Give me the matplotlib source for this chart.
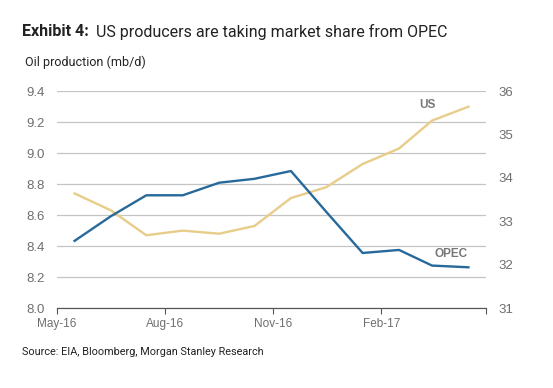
import matplotlib.pyplot as plt
import pandas as pd

# data, monthly mid-month points
months = pd.date_range("2016-05-01", periods=12, freq="MS") + pd.Timedelta(days=15)
us = [8.74, 8.63, 8.47, 8.50, 8.48, 8.53, 8.71, 8.78, 8.93, 9.03, 9.21, 9.30]
opec = [32.55, 33.12, 33.60, 33.60, 33.89, 33.98, 34.16, 33.22, 32.27, 32.34, 31.98, 31.94]

tick_dates = pd.to_datetime(["2016-05-01", "2016-08-01", "2016-11-01", "2017-02-01", "2017-05-01"])
tick_labels = ["May-16", "Aug-16", "Nov-16", "Feb-17", ""]
left_ticks = [8.0, 8.2, 8.4, 8.6, 8.8, 9.0, 9.2, 9.4]
right_ticks = [31, 32, 33, 34, 35, 36]

blue = "#27699a"
tan = "#e8cd8a"
grey_txt = "#6e6e6e"

fig = plt.figure(figsize=(5.53, 3.88), dpi=100)
ax = fig.add_axes([0.103, 0.206, 0.776, 0.559])
ax2 = ax.twinx()

# US on left axis
ax.plot(months, us, color=tan, lw=1.7, zorder=3)
ax.set_ylim(8.0, 9.4)
ax.set_yticks(left_ticks)
ax.set_yticklabels([f"{v:.1f}" for v in left_ticks], fontfamily="Liberation Sans",
                   fontsize=9.5, color=grey_txt)
ax.yaxis.grid(True, color="#c4c4c4", lw=0.9)
ax.set_axisbelow(True)
ax.tick_params(axis="y", length=0, pad=9)

ax.set_xlim(pd.Timestamp("2016-05-01"), pd.Timestamp("2017-05-01"))
ax.set_xticks(tick_dates)
ax.set_xticklabels(tick_labels, fontfamily="Liberation Sans", fontsize=8.5, color=grey_txt)
ax.tick_params(axis="x", length=4, color="#555555", width=0.8, pad=3)

# OPEC on right axis
ax2.plot(months, opec, color=blue, lw=1.7, zorder=3)
ax2.set_ylim(31, 36)
ax2.set_yticks(right_ticks)
ax2.set_yticklabels([str(v) for v in right_ticks], fontfamily="Liberation Sans",
                    fontsize=9.5, color=grey_txt)
ax2.tick_params(axis="y", length=0, pad=9)

for a in (ax, ax2):
    for s in ("top", "left", "right"):
        a.spines[s].set_visible(False)
    a.spines["bottom"].set_color("#555555")
    a.spines["bottom"].set_linewidth(0.8)

# series labels
ax.text(pd.Timestamp("2017-03-12"), 9.31, "US", color="#777777", fontsize=8.5,
        fontweight="bold", fontfamily="Liberation Sans", ha="center", va="center")
ax2.text(pd.Timestamp("2017-04-01"), 32.24, "OPEC", color="#777777", fontsize=8.5,
         fontweight="bold", fontfamily="Liberation Sans", ha="center", va="center")

# titles
fig.text(0.040, 0.918, "Exhibit 4:", fontfamily="Roboto", fontweight="bold",
         fontsize=11.5, color="#222222", va="center")
fig.text(0.174, 0.918, "US producers are taking market share from OPEC", fontfamily="Roboto",
         fontsize=11.5, color="#222222", va="center")
fig.text(0.045, 0.84, "Oil production (mb/d)", fontfamily="Roboto", fontsize=9,
         color="#222222", va="center")
fig.text(0.040, 0.093, "Source: EIA, Bloomberg, Morgan Stanley Research", fontfamily="Roboto",
         fontsize=7.8, color="#222222", va="center")

fig.savefig("out.png", dpi=100)
